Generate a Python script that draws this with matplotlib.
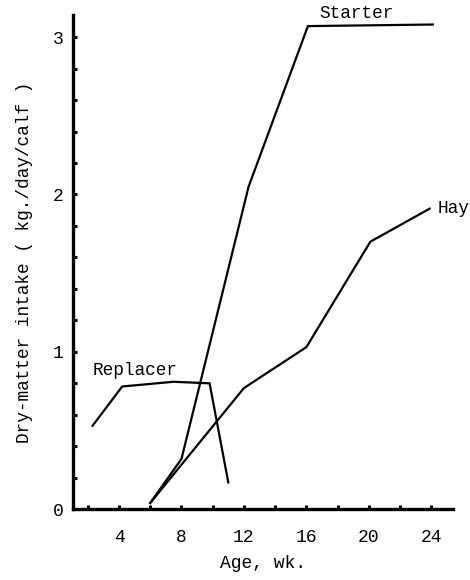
import matplotlib
matplotlib.use('Agg')
import matplotlib.pyplot as plt
import numpy as np

plt.rcParams['font.family'] = ['Liberation Mono', 'DejaVu Sans Mono']

# values (age in weeks, kg/day/calf)
replacer_wk = [2.3, 4.2, 7.5, 9.8, 11.0]
replacer_kg = [0.53, 0.78, 0.81, 0.80, 0.17]

starter_wk = [6.0, 8.0, 12.3, 16.1, 24.1]
starter_kg = [0.04, 0.32, 2.05, 3.07, 3.08]

hay_wk = [6.0, 12.0, 16.0, 20.1, 23.9]
hay_kg = [0.04, 0.77, 1.03, 1.70, 1.91]

x_labels = [4, 8, 12, 16, 20, 24]
y_labels = [0, 1, 2, 3]

fig = plt.figure(figsize=(4.7, 5.8), dpi=100)
ax = fig.add_axes([0.155, 0.122, 0.809, 0.852])

ax.plot(replacer_wk, replacer_kg, color='black', lw=1.6, solid_joinstyle='miter')
ax.plot(starter_wk, starter_kg, color='black', lw=1.6, solid_joinstyle='miter')
ax.plot(hay_wk, hay_kg, color='black', lw=1.6, solid_joinstyle='miter')

ax.text(5.0, 0.88, 'Replacer', fontsize=12.8, ha='center', va='center')
ax.text(19.2, 3.15, 'Starter', fontsize=12.8, ha='center', va='center', clip_on=False)
ax.text(24.4, 1.91, 'Hay', fontsize=12.8, ha='left', va='center', clip_on=False)

ax.set_xlim(1.04, 25.4)
ax.set_ylim(0, 3.14)

ax.set_xticks(np.arange(2, 25, 2), minor=True)
ax.set_xticks(x_labels)
ax.set_xticklabels([str(v) for v in x_labels])
ax.set_yticks(np.arange(0, 3.01, 0.2), minor=True)
ax.set_yticks(y_labels)
ax.set_yticklabels([str(v) for v in y_labels])

ax.tick_params(which='both', direction='in', length=3, width=2.2, labelsize=13, pad=14)
ax.tick_params(axis='y', pad=7)

for side in ['top', 'right']:
    ax.spines[side].set_visible(False)
for side in ['left', 'bottom']:
    ax.spines[side].set_linewidth(2.4)

ax.set_xlabel('Age, wk.', fontsize=13, labelpad=7)
ax.set_ylabel('Dry-matter intake ( kg./day/calf )', fontsize=12.8, labelpad=14)

fig.savefig('out.png', dpi=100)
